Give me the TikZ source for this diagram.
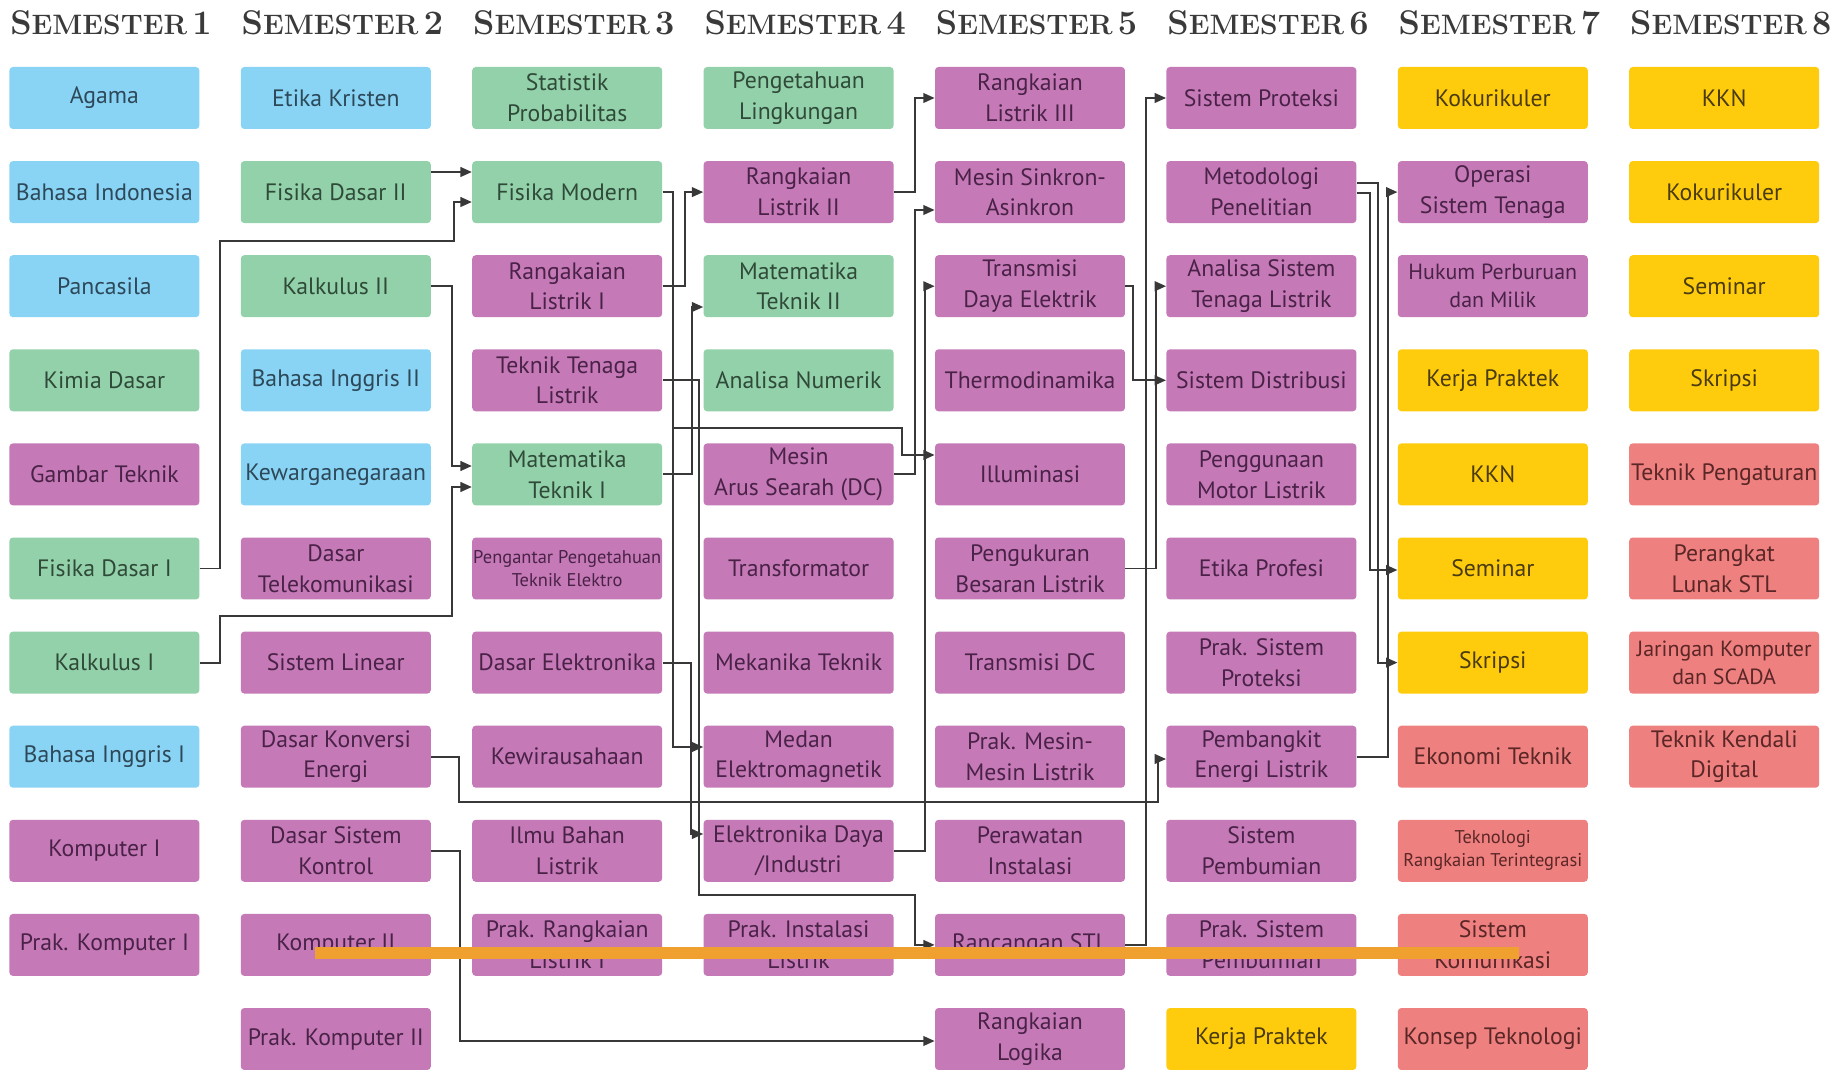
\documentclass[tikz,border=0pt]{standalone}
\usepackage{fontspec}
\usepackage{tikz}
\usetikzlibrary{arrows.meta}
\newfontfamily\boxfont{PT Sans}
\newcommand{\semtitle}[1]{{\fontsize{19.5}{22}\selectfont S}{\fontsize{16}{22}\selectfont EMESTER}\hspace{0.3em}{\fontsize{19.5}{22}\selectfont #1}}
\definecolor{mkublue}{HTML}{89D4F5}
\definecolor{mkutext}{HTML}{2D4858}
\definecolor{dasargreen}{HTML}{93D1AA}
\definecolor{dasartext}{HTML}{2F4A38}
\definecolor{intipurple}{HTML}{C57AB7}
\definecolor{intitext}{HTML}{4A2247}
\definecolor{wajibyellow}{HTML}{FFCC0D}
\definecolor{wajibtext}{HTML}{4A3B10}
\definecolor{pilihanred}{HTML}{EF8080}
\definecolor{pilihantext}{HTML}{5A2626}
\definecolor{linegray}{HTML}{383838}
\definecolor{headgray}{HTML}{3A3A3A}
\definecolor{orangeline}{HTML}{F0A02E}
\tikzset{
  course/.style={rectangle, rounded corners=2pt, minimum width=3.8cm, minimum height=1.24cm,
    inner sep=0pt, align=center, font=\boxfont\fontsize{13.5}{17.5}\selectfont},
  mku/.style={course, fill=mkublue, text=mkutext},
  dasar/.style={course, fill=dasargreen, text=dasartext},
  inti/.style={course, fill=intipurple, text=intitext},
  wajib/.style={course, fill=wajibyellow, text=wajibtext},
  pilihan/.style={course, fill=pilihanred, text=pilihantext},
  kecil/.style={font=\boxfont\fontsize{10.5}{13}\selectfont},
  sedang/.style={font=\boxfont\fontsize{12.5}{16}\selectfont},
  semhead/.style={font=\bfseries, text=headgray},
  link/.style={draw=linegray, line width=1.1pt, -{Triangle[length=6.5pt,width=5.5pt]}}
}
\begin{document}
\begin{tikzpicture}[x=0.02cm,y=-0.02cm]
  \fill[white] (0,0) rectangle (1842,1070);
  \useasboundingbox (0,0) rectangle (1842,1070);
  \foreach \n in {1,...,8}
    \node[semhead] (sem\n) at ({111+(\n-1)*231.4},23) {\semtitle{\n}};

  \node[mku] (agama) at (104.4,98) {Agama};
  \node[mku] (bindo) at (104.4,192.1) {Bahasa Indonesia};
  \node[mku] (pancasila) at (104.4,286.2) {Pancasila};
  \node[dasar] (kimia) at (104.4,380.3) {Kimia Dasar};
  \node[inti] (gamtek) at (104.4,474.4) {Gambar Teknik};
  \node[dasar] (fisdas1) at (104.4,568.5) {Fisika Dasar I};
  \node[dasar] (kalk1) at (104.4,662.6) {Kalkulus I};
  \node[mku] (bing1) at (104.4,756.7) {Bahasa Inggris I};
  \node[inti] (komp1) at (104.4,850.8) {Komputer I};
  \node[inti] (prakkomp1) at (104.4,944.9) {Prak. Komputer I};

  \node[mku] (etika) at (335.8,98) {Etika Kristen};
  \node[dasar] (fisdas2) at (335.8,192.1) {Fisika Dasar II};
  \node[dasar] (kalk2) at (335.8,286.2) {Kalkulus II};
  \node[mku] (bing2) at (335.8,380.3) {Bahasa Inggris II};
  \node[mku] (kwn) at (335.8,474.4) {Kewarganegaraan};
  \node[inti] (dastel) at (335.8,568.5) {Dasar\\Telekomunikasi};
  \node[inti] (silin) at (335.8,662.6) {Sistem Linear};
  \node[inti] (dke) at (335.8,756.7) {Dasar Konversi\\Energi};
  \node[inti] (dsk) at (335.8,850.8) {Dasar Sistem\\Kontrol};
  \node[inti] (komp2) at (335.8,944.9) {Komputer II};
  \node[inti] (prakkomp2) at (335.8,1039) {Prak. Komputer II};

  \node[dasar] (statprob) at (567.2,98) {Statistik\\Probabilitas};
  \node[dasar] (fismod) at (567.2,192.1) {Fisika Modern};
  \node[inti] (rl1) at (567.2,286.2) {Rangakaian\\Listrik I};
  \node[inti] (ttl) at (567.2,380.3) {Teknik Tenaga\\Listrik};
  \node[dasar] (mt1) at (567.2,474.4) {Matematika\\Teknik I};
  \node[inti, kecil] (ppte) at (567.2,568.5) {Pengantar Pengetahuan\\Teknik Elektro};
  \node[inti] (daselk) at (567.2,662.6) {Dasar Elektronika};
  \node[inti] (kwu) at (567.2,756.7) {Kewirausahaan};
  \node[inti] (ibl) at (567.2,850.8) {Ilmu Bahan\\Listrik};
  \node[inti] (prakrl1) at (567.2,944.9) {Prak. Rangkaian\\Listrik I};

  \node[dasar] (penling) at (798.6,98) {Pengetahuan\\Lingkungan};
  \node[inti] (rl2) at (798.6,192.1) {Rangkaian\\Listrik II};
  \node[dasar] (mt2) at (798.6,286.2) {Matematika\\Teknik II};
  \node[dasar] (anum) at (798.6,380.3) {Analisa Numerik};
  \node[inti] (mdc) at (798.6,474.4) {Mesin\\Arus Searah (DC)};
  \node[inti] (trafo) at (798.6,568.5) {Transformator};
  \node[inti] (mektek) at (798.6,662.6) {Mekanika Teknik};
  \node[inti] (medan) at (798.6,756.7) {Medan\\Elektromagnetik};
  \node[inti] (eldaya) at (798.6,850.8) {Elektronika Daya\\/Industri};
  \node[inti] (prakinst) at (798.6,944.9) {Prak. Instalasi\\Listrik};

  \node[inti] (rl3) at (1030,98) {Rangkaian\\Listrik III};
  \node[inti] (msa) at (1030,192.1) {Mesin Sinkron-\\Asinkron};
  \node[inti] (tde) at (1030,286.2) {Transmisi\\Daya Elektrik};
  \node[inti] (thermo) at (1030,380.3) {Thermodinamika};
  \node[inti] (illum) at (1030,474.4) {Illuminasi};
  \node[inti] (pbl) at (1030,568.5) {Pengukuran\\Besaran Listrik};
  \node[inti] (tdc) at (1030,662.6) {Transmisi DC};
  \node[inti] (prakmesin) at (1030,756.7) {Prak. Mesin-\\Mesin Listrik};
  \node[inti] (perawatan) at (1030,850.8) {Perawatan\\Instalasi};
  \node[inti] (rstl) at (1030,944.9) {Rancangan STL};
  \node[inti] (rlogika) at (1030,1039) {Rangkaian\\Logika};

  \node[inti] (sisprot) at (1261.4,98) {Sistem Proteksi};
  \node[inti] (metpen) at (1261.4,192.1) {Metodologi\\Penelitian};
  \node[inti] (astl) at (1261.4,286.2) {Analisa Sistem\\Tenaga Listrik};
  \node[inti] (sisdis) at (1261.4,380.3) {Sistem Distribusi};
  \node[inti] (pml) at (1261.4,474.4) {Penggunaan\\Motor Listrik};
  \node[inti] (etprof) at (1261.4,568.5) {Etika Profesi};
  \node[inti] (praksisprot) at (1261.4,662.6) {Prak. Sistem\\Proteksi};
  \node[inti] (pel) at (1261.4,756.7) {Pembangkit\\Energi Listrik};
  \node[inti] (sispemb) at (1261.4,850.8) {Sistem\\Pembumian};
  \node[inti] (praksispemb) at (1261.4,944.9) {Prak. Sistem\\Pembumian};
  \node[wajib] (kp6) at (1261.4,1039) {Kerja Praktek};

  \node[wajib] (kokur7) at (1492.8,98) {Kokurikuler};
  \node[inti] (ost) at (1492.8,192.1) {Operasi\\Sistem Tenaga};
  \node[inti, sedang] (hukum) at (1492.8,286.2) {Hukum Perburuan\\dan Milik};
  \node[wajib] (kp7) at (1492.8,380.3) {Kerja Praktek};
  \node[wajib] (kkn7) at (1492.8,474.4) {KKN};
  \node[wajib] (seminar7) at (1492.8,568.5) {Seminar};
  \node[wajib] (skripsi7) at (1492.8,662.6) {Skripsi};
  \node[pilihan] (ekotek) at (1492.8,756.7) {Ekonomi Teknik};
  \node[pilihan, kecil] (trt) at (1492.8,850.8) {Teknologi\\Rangkaian Terintegrasi};
  \node[pilihan] (siskom) at (1492.8,944.9) {Sistem\\Komunikasi};
  \node[pilihan] (kontek) at (1492.8,1039) {Konsep Teknologi};

  \node[wajib] (kkn8) at (1724.2,98) {KKN};
  \node[wajib] (kokur8) at (1724.2,192.1) {Kokurikuler};
  \node[wajib] (seminar8) at (1724.2,286.2) {Seminar};
  \node[wajib] (skripsi8) at (1724.2,380.3) {Skripsi};
  \node[pilihan] (tpeng) at (1724.2,474.4) {Teknik Pengaturan};
  \node[pilihan] (plstl) at (1724.2,568.5) {Perangkat\\Lunak STL};
  \node[pilihan, sedang] (jkscada) at (1724.2,662.6) {Jaringan Komputer\\dan SCADA};
  \node[pilihan] (tkd) at (1724.2,756.7) {Teknik Kendali\\Digital};

  \draw[link] (fisdas2.east |- 0,172) -- (fismod.west |- 0,172);
  \draw[link] (fisdas1.east) -| (220,241) -| (454,202) -- (fismod.west |- 0,202);
  \draw[link] (kalk2.east) -| (452,466) -- (mt1.west |- 0,466);
  \draw[link] (kalk1.east) -| (220,616) -| (452,487) -- (mt1.west |- 0,487);
  \draw[link] (fismod.east) -| (673,747) -- (medan.west |- 0,747);
  \draw[link] (fismod.east) -| (673,428) -| (902,455) -- (illum.west |- 0,455);
  \draw[link] (rl1.east) -| (685,192.1) -- (rl2.west);
  \draw[link] (ttl.east) -| (699,895) -| (915,944.9) -- (rstl.west);
  \draw[link] (mt1.east) -| (692,307) -- (mt2.west |- 0,307);
  \draw[link] (daselk.east) -| (691,834) -- (eldaya.west |- 0,834);
  \draw[link] (mdc.east) -| (915,210) -- (msa.west |- 0,210);
  \draw[link] (rl2.east) -| (915,98) -- (rl3.west);
  \draw[link] (eldaya.east) -| (925,286.2) -- (tde.west);
  \draw[link] (dke.east) -| (459,802) -| (1158,759) -- (pel.west |- 0,759);
  \draw[link] (dsk.east) -| (460,1041) -- (rlogika.west |- 0,1041);
  \draw[link] (pbl.east) -| (1156,286.2) -- (astl.west);
  \draw[link] (tde.east) -| (1133,380.3) -- (sisdis.west);
  \draw[link] (rstl.east) -| (1146,98) -- (sisprot.west);
  \draw[link] (metpen.east |- 0,193) -| (1370,570) -- (seminar7.west |- 0,570);
  \draw[link] (metpen.east |- 0,183) -| (1378,662.6) -- (skripsi7.west);
  \draw[link] (pel.east) -| (1388,192.1) -- (ost.west);

  \draw[orangeline, line width=7pt] (315,953) -- (1519,953);
\end{tikzpicture}
\end{document}
